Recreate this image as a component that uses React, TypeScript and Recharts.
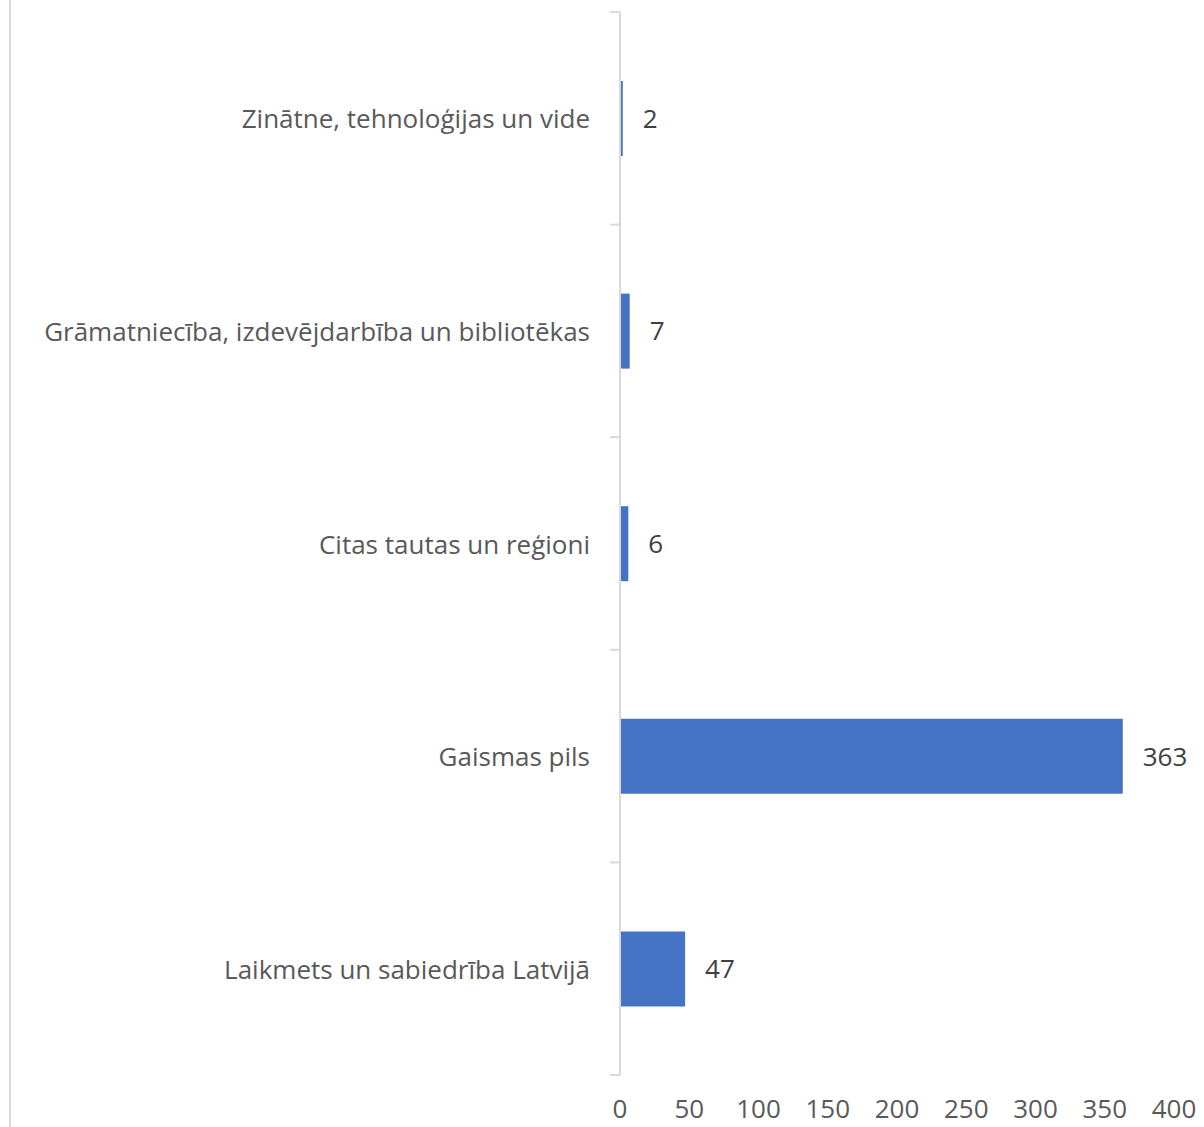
import React from 'react';
import { BarChart, Bar, XAxis, YAxis, LabelList } from 'recharts';

const categories = [
  'Zinātne, tehnoloģijas un vide',
  'Grāmatniecība, izdevējdarbība un bibliotēkas',
  'Citas tautas un reģioni',
  'Gaismas pils',
  'Laikmets un sabiedrība Latvijā',
];
const values = [2, 7, 6, 363, 47];
const xTicks = [0, 50, 100, 150, 200, 250, 300, 350, 400];

const data = categories.map((name, i) => ({ name, value: values[i] }));

const FONT = '"Open Sans", "Noto Sans", sans-serif';
const TICK_MARGIN = 30;

const YTick = (props: any) => {
  const { x, y, payload, index } = props;
  const half = payload && payload.offset ? payload.offset : 0;
  const axisX = x + TICK_MARGIN;
  return (
    <g>
      <text
        x={x}
        y={y}
        textAnchor="end"
        dominantBaseline="central"
        fill="#595959"
        fontSize={26}
        fontFamily={FONT}
      >
        {payload.value}
      </text>
      <line x1={axisX - 10} x2={axisX} y1={y - half} y2={y - half} stroke="#d9d9d9" strokeWidth={2} />
      {index === categories.length - 1 ? (
        <line x1={axisX - 10} x2={axisX} y1={y + half} y2={y + half} stroke="#d9d9d9" strokeWidth={2} />
      ) : null}
    </g>
  );
};

export default function App() {
  return (
    <div style={{ position: 'relative', width: 1204, height: 1127, background: '#fff', overflow: 'hidden' }}>
      <style>{`body{margin:0;}`}</style>
      <div style={{ position: 'absolute', left: 9, top: 0, width: 2, height: 1127, background: '#d9d9d9' }} />
      <BarChart
        width={1204}
        height={1127}
        data={data}
        layout="vertical"
        margin={{ top: 12, right: 30, bottom: 0, left: 0 }}
      >
        <XAxis
          type="number"
          domain={[0, 400]}
          ticks={xTicks}
          interval={0}
          axisLine={false}
          tickLine={false}
          tickSize={0}
          tickMargin={25}
          height={52}
          tick={{ fill: '#595959', fontSize: 26, fontFamily: FONT }}
        />
        <YAxis
          type="category"
          dataKey="name"
          width={620}
          axisLine={{ stroke: '#d9d9d9', strokeWidth: 2 }}
          tickLine={false}
          tickSize={0}
          tickMargin={TICK_MARGIN}
          interval={0}
          tick={<YTick />}
        />
        <Bar dataKey="value" fill="#4472C4" barSize={75} isAnimationActive={false}>
          <LabelList
            dataKey="value"
            position="right"
            offset={20}
            fill="#404040"
            fontSize={26}
            fontFamily={FONT}
          />
        </Bar>
      </BarChart>
    </div>
  );
}
